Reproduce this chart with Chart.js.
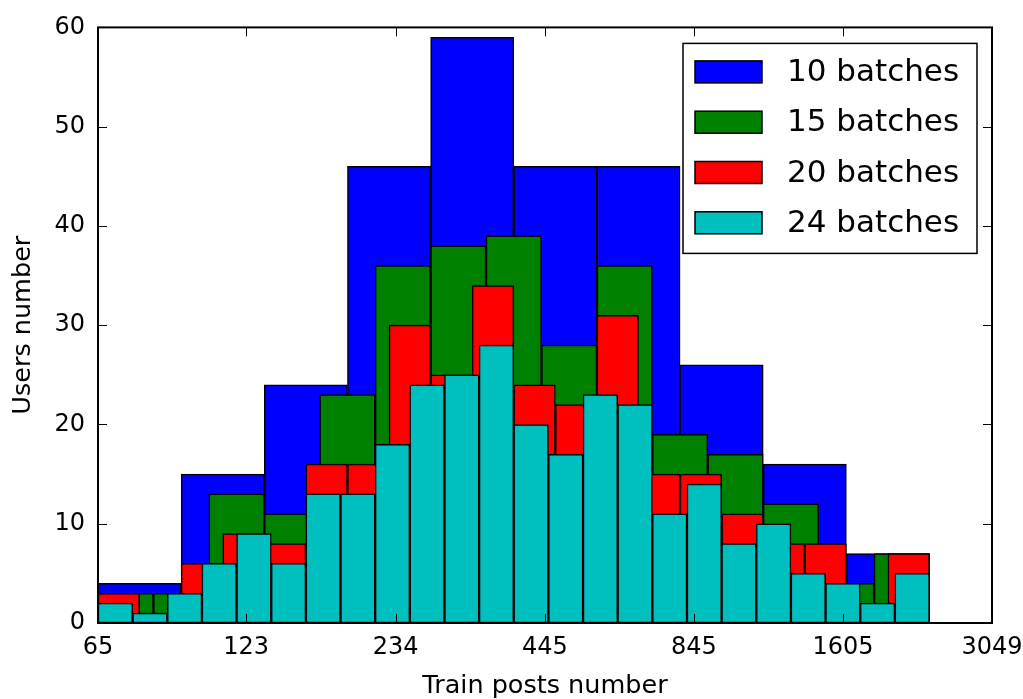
<!DOCTYPE html>
<html>
<head>
<meta charset="utf-8">
<script src="https://cdn.jsdelivr.net/npm/chart.js@4"></script>
<style>
  html, body { margin: 0; padding: 0; background: #fff; }
  #wrap { width: 1023px; height: 699px; }
</style>
</head>
<body>
<div id="wrap"><canvas id="chart"></canvas></div>
<script>
// users per bin of train posts, log-spaced bins between postsMin and postsMax
var seriesLabels = ['10 batches', '15 batches', '20 batches', '24 batches'];
var batches10 = [4, 15, 24, 46, 59, 46, 46, 26, 16, 7];
var batches15 = [3, 3, 13, 11, 23, 36, 38, 39, 28, 36, 19, 17, 12, 4, 7];
var batches20 = [3, 1, 6, 9, 8, 16, 16, 30, 25, 34, 24, 22, 31, 15, 15, 11, 8, 8, 0, 7];
var batches24 = [2, 1, 3, 6, 9, 6, 13, 13, 18, 24, 25, 28, 20, 17, 23, 22, 11, 14, 8, 10, 5, 4, 2, 5];
var seriesColors = ['#0000ff', '#008000', '#ff0000', '#00bfbf'];
var xTickLabels = [65, 123, 234, 445, 845, 1605, 3049];
var postsMin = 65;
var postsMax = 2330;

var FONT = 'DejaVu Sans';

// bars sit at the middle of each log bin
toPoints = function(counts) {
    var lo = Math.log10(postsMin);
    var step = (Math.log10(postsMax) - lo) / counts.length;
    return counts.map(function(c, i) {
        return { x: lo + step * (i + 0.5), y: c };
    });
}

makeXAxis = function(visible) {
    return {
        type: 'linear',
        display: visible,
        offset: false,
        min: Math.log10(xTickLabels[0]),
        max: Math.log10(xTickLabels[xTickLabels.length - 1]),
        afterBuildTicks: function(axis) {
            axis.ticks = xTickLabels.map(function(v) { return { value: Math.log10(v) }; });
        },
        afterFit: function(axis) {
            if (!visible) return;
            axis.height = 76;
            axis.paddingLeft = 0;
            axis.paddingRight = 31;
        },
        grid: { display: false, drawTicks: false },
        border: { display: false },
        ticks: {
            autoSkip: false,
            maxRotation: 0,
            padding: 10,
            color: '#000',
            font: { family: FONT, size: 24 },
            callback: function(v, i) { return String(xTickLabels[i]); }
        },
        title: {
            display: visible,
            text: 'Train posts number',
            color: '#000',
            font: { family: FONT, size: 25.5, lineHeight: 1 },
            padding: { top: 0, bottom: 0 }
        }
    };
}

var allSeries = [batches10, batches15, batches20, batches24];
var axisIds = ['x', 'x15', 'x20', 'x24'];
var datasets = allSeries.map(function(s, i) {
    return {
        label: seriesLabels[i],
        data: toPoints(s),
        xAxisID: axisIds[i],
        backgroundColor: seriesColors[i],
        borderColor: '#000',
        borderWidth: 1.5,
        borderSkipped: false,
        barPercentage: 1,
        categoryPercentage: 1,
        grouped: false,
        order: allSeries.length - i
    };
});

var frame = {
    id: 'frame',
    afterDatasetsDraw: function(chart) {
        var ctx = chart.ctx, a = chart.chartArea;
        var sx = chart.scales.x, sy = chart.scales.y;
        var tick = 9;
        ctx.save();
        ctx.strokeStyle = '#000';
        ctx.lineWidth = 1;
        ctx.beginPath();
        sx.ticks.forEach(function(t, i) {
            var px = Math.round(sx.getPixelForTick(i)) + 0.5;
            ctx.moveTo(px, a.bottom); ctx.lineTo(px, a.bottom - tick);
            ctx.moveTo(px, a.top); ctx.lineTo(px, a.top + tick);
        });
        sy.ticks.forEach(function(t, i) {
            var py = Math.round(sy.getPixelForTick(i)) + 0.5;
            ctx.moveTo(a.left, py); ctx.lineTo(a.left + tick, py);
            ctx.moveTo(a.right, py); ctx.lineTo(a.right - tick, py);
        });
        ctx.stroke();
        ctx.lineWidth = 2;
        ctx.strokeRect(a.left, a.top, a.right - a.left, a.bottom - a.top);

        // legend box in the upper right corner
        var bx = a.right - 309, by = a.top + 16, bw = 294, bh = 210;
        ctx.fillStyle = '#fff';
        ctx.fillRect(bx, by, bw, bh);
        ctx.lineWidth = 1.5;
        ctx.strokeRect(bx, by, bw, bh);
        ctx.font = '31px "' + FONT + '"';
        ctx.textBaseline = 'middle';
        ctx.textAlign = 'left';
        chart.data.datasets.forEach(function(ds, i) {
            var cy = by + 28.5 + i * 50.3;
            ctx.fillStyle = ds.backgroundColor;
            ctx.fillRect(bx + 12, cy - 11, 67, 22);
            ctx.lineWidth = 1.5;
            ctx.strokeStyle = '#000';
            ctx.strokeRect(bx + 12, cy - 11, 67, 22);
            ctx.fillStyle = '#000';
            ctx.fillText(ds.label, bx + 104, cy + 1);
        });
        ctx.restore();
    }
};

var scales = {
    y: {
        type: 'linear',
        min: 0,
        max: 60,
        afterFit: function(axis) { axis.width = 98; },
        grid: { display: false, drawTicks: false },
        border: { display: false },
        ticks: {
            stepSize: 10,
            padding: 13,
            color: '#000',
            font: { family: FONT, size: 24 }
        },
        title: {
            display: true,
            text: 'Users number',
            color: '#000',
            font: { family: FONT, size: 25.5, lineHeight: 1 },
            padding: { top: 11, bottom: 0 }
        }
    }
};
axisIds.forEach(function(id, i) { scales[id] = makeXAxis(i === 0); });

new Chart(document.getElementById('chart'), {
    type: 'bar',
    data: { datasets: datasets },
    options: {
        responsive: true,
        maintainAspectRatio: false,
        animation: false,
        devicePixelRatio: 1,
        layout: { padding: { top: 27, right: 31, bottom: 0, left: 0 } },
        plugins: {
            legend: { display: false },
            tooltip: { enabled: false }
        },
        scales: scales
    },
    plugins: [frame]
});
</script>
</body>
</html>
